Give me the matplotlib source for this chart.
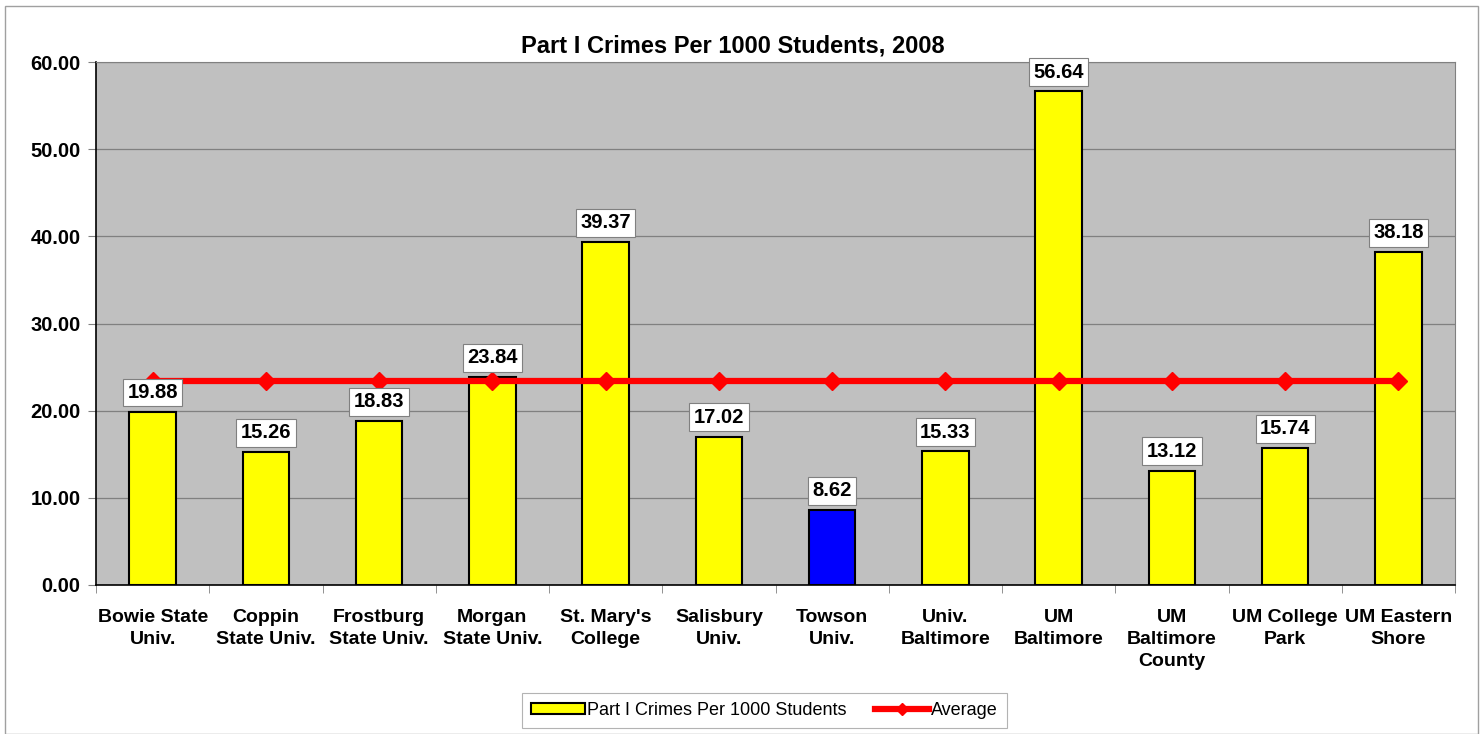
import numpy as np
import matplotlib.pyplot as plt
from matplotlib.patches import Rectangle
from matplotlib.lines import Line2D

schools = ["Bowie State\nUniv.", "Coppin\nState Univ.", "Frostburg\nState Univ.",
           "Morgan\nState Univ.", "St. Mary's\nCollege", "Salisbury\nUniv.",
           "Towson\nUniv.", "Univ.\nBaltimore", "UM\nBaltimore",
           "UM\nBaltimore\nCounty", "UM College\nPark", "UM Eastern\nShore"]
crimes = [19.88, 15.26, 18.83, 23.84, 39.37, 17.02, 8.62, 15.33, 56.64, 13.12, 15.74, 38.18]
average = 23.45
highlight = "Towson\nUniv."

plt.rcParams["font.family"] = ["Liberation Sans", "DejaVu Sans"]

fig = plt.figure(figsize=(14.84, 7.34), dpi=100)
ax = fig.add_axes([0.0647, 0.203, 0.9158, 0.7125])
ax.set_facecolor("#c0c0c0")

x = np.arange(len(schools))
colors = ["#0000ff" if s == highlight else "#ffff00" for s in schools]
ax.bar(x, crimes, width=0.41, color=colors, edgecolor="black", linewidth=1.5, zorder=3)
ax.plot(x, [average] * len(x), color="#ff0000", lw=4.5, marker="D", ms=9, zorder=4)

for xi, v in zip(x, crimes):
    ax.annotate(f"{v:.2f}", (xi, v), xytext=(0, 7), textcoords="offset points",
                ha="center", va="bottom", fontsize=14.5, fontweight="bold", zorder=5,
                bbox=dict(boxstyle="square,pad=0.22", fc="white", ec="#808080", lw=0.8))

ax.set_xlim(-0.5, len(schools) - 0.5)
ax.set_ylim(0, 60)
ax.set_yticks(np.arange(0, 61, 10))
ax.set_yticklabels([f"{t:.2f}" for t in np.arange(0, 61, 10)], fontsize=14.5, fontweight="bold")
ax.yaxis.grid(True, color="#808080", lw=0.9, zorder=1)
ax.set_axisbelow(True)

ax.set_xticks(x)
ax.set_xticklabels(schools, fontsize=14, fontweight="bold", linespacing=1.4)
ax.tick_params(axis="x", length=0, pad=17)
ax.set_xticks(np.arange(-0.5, len(schools)), minor=True)
ax.tick_params(axis="x", which="minor", length=6, color="#808080")
ax.tick_params(axis="y", length=6, color="#808080", pad=5)

for side in ["top", "right"]:
    ax.spines[side].set_color("#808080")
    ax.spines[side].set_linewidth(0.8)
ax.spines["left"].set_linewidth(1.2)
ax.spines["bottom"].set_linewidth(1.2)

fig.text(0.494, 0.938, "Part I Crimes Per 1000 Students, 2008", fontsize=17,
         fontweight="bold", ha="center", va="center")

handles = [Rectangle((0, 0), 1, 1, fc="#ffff00", ec="black", lw=1.5),
           Line2D([], [], color="#ff0000", lw=4.5, marker="D", ms=6)]
leg = fig.legend(handles, ["Part I Crimes Per 1000 Students", "Average"],
                 loc="center", bbox_to_anchor=(0.515, 0.032), ncol=2, fontsize=13,
                 frameon=True, fancybox=False, edgecolor="#a0a0a0",
                 handlelength=3.0, handleheight=0.5, handletextpad=0.1, columnspacing=1.6,
                 borderpad=0.5)
leg.get_frame().set_linewidth(0.8)

fig.patches.append(Rectangle((0.0034, 0.0), 0.9926, 0.992, transform=fig.transFigure,
                             fill=False, ec="#a0a0a0", lw=1.0))

fig.savefig("out.png", dpi=100)
